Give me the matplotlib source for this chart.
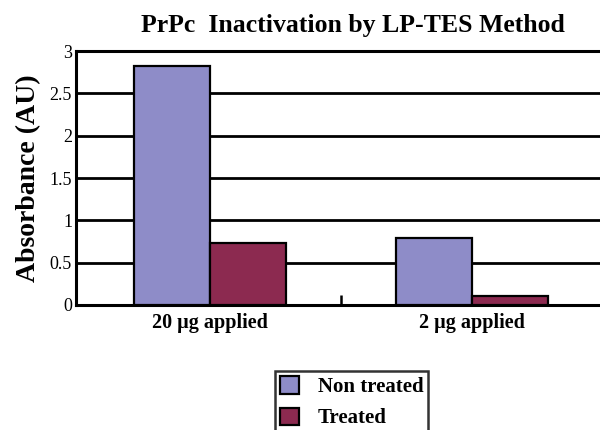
import matplotlib.pyplot as plt
import numpy as np

# data
categories = ['20 \u00b5g applied', '2 \u00b5g applied']
non_treated = [2.83, 0.79]
treated = [0.73, 0.11]
series_names = ['Non treated', 'Treated']
colors = ['#8E8CC8', '#8C2A50']
yticks = [0, 0.5, 1, 1.5, 2, 2.5, 3]
ytick_labels = ['0', '0.5', '1', '1.5', '2', '2.5', '3']

plt.rcParams['font.family'] = ['Liberation Serif', 'DejaVu Serif']

fig = plt.figure(figsize=(6, 4.3), dpi=100)
ax = fig.add_axes([0.127, 0.291, 0.882, 0.590])

x = np.arange(len(categories))
w = 0.29
ax.bar(x - w / 2, non_treated, w, color=colors[0], edgecolor='black', linewidth=1.6,
       label=series_names[0], zorder=3)
ax.bar(x + w / 2, treated, w, color=colors[1], edgecolor='black', linewidth=1.6,
       label=series_names[1], zorder=3)

ax.set_xlim(-0.51, 1.51)
ax.set_ylim(0, 3)
ax.set_yticks(yticks)
ax.set_yticklabels(ytick_labels, fontsize=13)
ax.set_xticks(x)
ax.set_xticklabels(categories, fontsize=14.5, fontweight='bold')
ax.set_xticks([0.5], minor=True)
ax.tick_params(axis='x', which='major', length=0, pad=6)
ax.tick_params(axis='x', which='minor', direction='in', length=7, width=1.8)
ax.tick_params(axis='y', length=0, pad=3)

ax.yaxis.grid(True, color='black', linewidth=2, zorder=1)
ax.set_axisbelow(True)
for s in ['left', 'bottom', 'top']:
    ax.spines[s].set_linewidth(2.2)
ax.spines['right'].set_visible(False)

ax.set_ylabel('Absorbance (AU)', fontsize=20, fontweight='bold', labelpad=6)
fig.text(0.588, 0.94, 'PrPc  Inactivation by LP-TES Method', ha='center', va='center',
         fontsize=18.5, fontweight='bold')

leg = fig.legend(loc='upper center', bbox_to_anchor=(0.586, 0.137),
                 prop={'weight': 'bold', 'size': 15}, frameon=True, fancybox=False,
                 handlelength=0.9, handleheight=0.9, handletextpad=0.9,
                 borderpad=0.25, labelspacing=0.5, borderaxespad=0)
leg.get_frame().set_edgecolor('black')
leg.get_frame().set_linewidth(1.8)

fig.savefig('out.png', dpi=100)
